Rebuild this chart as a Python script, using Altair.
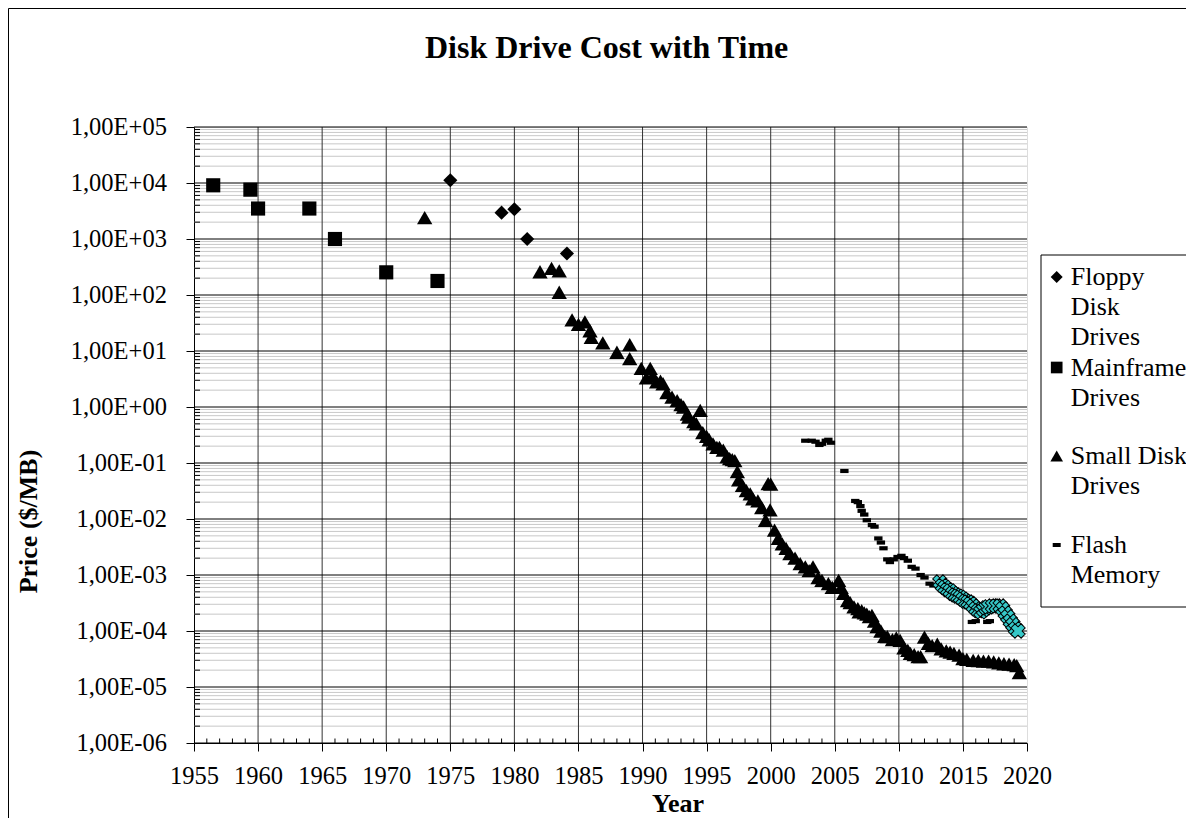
import altair as alt
import pandas as pd

# ---------------- text ----------------
chart_title = ["Disk Drive Cost with Time"]
x_title = "Year"
y_title = "Price ($/MB)"
series_names = ["Floppy Disk Drives", "Mainframe Drives", "Small Disk Drives", "Flash Memory"]
legend_lines = [["Floppy", "Disk", "Drives"], ["Mainframe", "Drives"], ["Small Disk", "Drives"], ["Flash", "Memory"]]

# ---------------- axes ----------------
x_ticks = [1955, 1960, 1965, 1970, 1975, 1980, 1985, 1990, 1995, 2000, 2005, 2010, 2015, 2020]
x_grid = [1960, 1965, 1970, 1975, 1980, 1985, 1990, 1995, 2000, 2005, 2010, 2015]
x_minor = [yr for yr in range(1956, 2020) if yr % 5 != 0]
y_ticks = [1e-06, 1e-05, 1e-04, 1e-03, 1e-02, 1e-01, 1e00, 1e01, 1e02, 1e03, 1e04, 1e05]
y_minor = [m * d for d in y_ticks[:-1] for m in range(2, 10)]

# ---------------- data ----------------
floppy_year = [1975.0, 1979.0, 1980.0, 1981.0, 1984.1]
floppy_price = [11200, 2950, 3400, 1000, 550]

mainframe_year = [1956.5, 1959.4, 1960.0, 1964.0, 1966.0, 1970.0, 1974.0]
mainframe_price = [9100, 7600, 3500, 3500, 1000, 254, 178]

small_year = [
    1973.0, 1982.0, 1982.9, 1983.5, 1983.5, 1984.5, 1985.0, 1985.5, 1985.9, 1986.0,
    1986.9, 1988.0, 1989.0, 1989.0, 1989.9, 1990.3, 1990.6, 1990.8, 1991.1, 1991.4,
    1991.6, 1991.9, 1992.3, 1992.7, 1993.0, 1993.2, 1993.5, 1993.6, 1994.0, 1994.2,
    1994.5, 1994.7, 1995.0, 1995.2, 1995.5, 1995.8, 1996.0, 1996.3, 1996.6, 1996.8,
    1997.0, 1997.2, 1997.4, 1997.5, 1997.8, 1998.1, 1998.4, 1998.6, 1999.0, 1999.3,
    1999.6, 1999.8, 2000.0, 1999.95, 2000.3, 2000.6, 2000.9, 2001.2, 2001.5, 2001.9,
    2002.3, 2002.7, 2003.0, 2003.3, 2003.7, 2004.0, 2004.5, 2004.8, 2005.3, 2005.5,
    2005.7, 2006.0, 2006.2, 2006.5, 2006.8, 2006.9, 2007.1, 2007.3, 2007.5, 2007.7,
    2007.9, 2008.1, 2008.3, 2008.6, 2008.9, 2009.1, 2009.5, 2009.8, 2010.1, 2010.4,
    2010.7, 2010.9, 2011.2, 2011.5, 2011.7, 2012.0, 2012.3, 2012.6, 2013.0, 2013.3,
    2013.7, 2014.0, 2014.3, 2014.7, 2015.0, 2015.3, 2015.8, 2016.2, 2016.6, 2017.0,
    2017.4, 2017.8, 2018.2, 2018.6, 2019.0, 2019.2, 2019.4,
]
small_price = [
    2400, 260, 300, 270, 112, 36, 30, 33, 23, 17.5,
    14, 9.5, 13, 7.3, 4.9, 3.3, 4.9, 3.6, 2.8, 2.9,
    2.6, 1.8, 1.5, 1.3, 1.1, 1.0, 0.75, 0.66, 0.55, 0.5,
    0.87, 0.35, 0.3, 0.26, 0.22, 0.19, 0.19, 0.17, 0.13, 0.12,
    0.115, 0.11, 0.07, 0.05, 0.04, 0.032, 0.028, 0.023, 0.021, 0.016,
    0.0095, 0.043, 0.042, 0.0145, 0.0063, 0.0045, 0.0036, 0.003, 0.0024, 0.002,
    0.0016, 0.0014, 0.0012, 0.0014, 0.0009, 0.0008, 0.0007, 0.0006, 0.0008, 0.0006,
    0.00047, 0.00035, 0.00032, 0.00027, 0.00025, 0.00022, 0.00023, 0.00021, 0.0002, 0.00018,
    0.00019, 0.00015, 0.00012, 0.0001, 0.00008, 0.000079, 0.00007, 0.000075, 0.000068, 0.00005,
    0.000045, 0.00004, 0.000038, 0.000035, 0.000035, 0.000078, 0.00006, 0.000055, 0.000058, 0.000048,
    0.000044, 0.000042, 0.00004, 0.000037, 0.000032, 0.000031, 0.00003, 0.0000295, 0.000029, 0.000029,
    0.000028, 0.000027, 0.000026, 0.0000255, 0.000025, 0.000024, 0.000018,
]

flash_year = [
    2002.7, 2003.2, 2003.5, 2003.8, 2004.0, 2004.3, 2004.5, 2004.7, 2005.75, 2006.6,
    2006.8, 2007.0, 2007.1, 2007.3, 2007.5, 2007.9, 2008.1, 2008.4, 2008.6, 2008.8,
    2009.1, 2009.3, 2009.6, 2009.9, 2010.2, 2010.4, 2010.7, 2011.0, 2011.3, 2011.7,
    2012.0, 2012.4, 2012.7, 2015.7, 2016.0, 2016.9, 2017.1,
]
flash_price = [
    0.25, 0.25, 0.24, 0.21, 0.22, 0.25, 0.26, 0.23, 0.072, 0.021,
    0.02, 0.017, 0.014, 0.012, 0.0095, 0.0078, 0.0073, 0.0045, 0.0038, 0.003,
    0.0019, 0.0017, 0.0019, 0.0021, 0.0022, 0.002, 0.0018, 0.0014, 0.0013, 0.001,
    0.0009, 0.0007, 0.00065, 0.000145, 0.00015, 0.000145, 0.00015,
]

cyan_year = [
    2013.2, 2013.4, 2013.6, 2013.8, 2014.0, 2014.2, 2014.4, 2014.6, 2014.8, 2015.0,
    2015.2, 2015.4, 2015.6, 2015.8, 2016.0, 2016.2, 2016.4, 2016.6, 2016.8, 2017.0,
    2017.3, 2017.6, 2017.9, 2018.1, 2018.3, 2018.5, 2018.7, 2018.9, 2019.1, 2019.3,
]
cyan_price = [
    0.00075, 0.00065, 0.0006, 0.00055, 0.00052, 0.00047, 0.00044, 0.00042, 0.0004, 0.00037,
    0.00034, 0.00033, 0.00031, 0.00028, 0.00025, 0.00023, 0.00022, 0.00024, 0.00026, 0.00027,
    0.00028, 0.00028, 0.00028, 0.00025, 0.00021, 0.00018, 0.00015, 0.00013, 0.00011, 0.0001,
]

# ---------------- layout / style ----------------
W, H = 833, 616
FONT = "Liberation Serif"
DASH = "M-1,-0.5H1V0.5H-1Z"

xscale = alt.Scale(domain=[1955, 2020], nice=False, zero=False)
yscale = alt.Scale(type="log", domain=[1e-6, 1e5], nice=False)

exp_expr = "round(log(datum.value)/LN10)"
ylabel = ("'1,00E' + (" + exp_expr + " < 0 ? '-' : '+') + (abs(" + exp_expr +
          ") < 10 ? '0' : '') + abs(" + exp_expr + ")")

xaxis = alt.Axis(values=x_ticks, format="d", grid=False, tickSize=8, tickColor="black",
                 domainColor="black", labelFont=FONT, labelFontSize=24.5, labelColor="black",
                 labelBaseline="alphabetic", labelPadding=32.3, labelFlush=False, labelOverlap=False,
                 title=x_title, titleFont=FONT, titleFontSize=26, titleFontWeight="bold",
                 titleColor="black", titleX=483.6, titleY=68.5, titleAlign="center",
                 titleBaseline="alphabetic")
yaxis = alt.Axis(values=y_ticks, grid=False, tickSize=8, tickColor="black", domainColor="black",
                 labelExpr=ylabel, labelFont=FONT, labelFontSize=24.5, labelColor="black",
                 labelBaseline="middle", labelPadding=19.6, labelFlush=False, labelOverlap=False,
                 title=y_title, titleFont=FONT, titleFontSize=26, titleFontWeight="bold",
                 titleColor="black", titleX=-157.3, titleY=394, titleAngle=270,
                 titleAlign="center", titleBaseline="alphabetic")


def X():
    return alt.X("year:Q", scale=xscale, axis=xaxis)


def Y():
    return alt.Y("price:Q", scale=yscale, axis=yaxis)


one = pd.DataFrame({"k": [0]})

layers = []

# outer chart frame
layers.append(alt.Chart(one).mark_rect(fillOpacity=0, stroke="black", strokeWidth=1).encode(
    x=alt.value(-185.5), x2=alt.value(W + 500), y=alt.value(-118.5), y2=alt.value(H + 500)))

# minor horizontal gridlines
layers.append(alt.Chart(pd.DataFrame({"price": y_minor})).mark_rule(color="#c8c8c8", strokeWidth=1).encode(
    y=Y(), x=alt.value(0), x2=alt.value(W)))
# major vertical gridlines
layers.append(alt.Chart(pd.DataFrame({"year": x_grid})).mark_rule(color="#333333", strokeWidth=1).encode(
    x=X(), y=alt.value(0), y2=alt.value(H)))
# major horizontal gridlines
layers.append(alt.Chart(pd.DataFrame({"price": y_ticks})).mark_rule(color="black", strokeWidth=1).encode(
    y=Y(), x=alt.value(0), x2=alt.value(W)))
# minor ticks (inside)
layers.append(alt.Chart(pd.DataFrame({"price": y_minor})).mark_rule(color="black", strokeWidth=1).encode(
    y=Y(), x=alt.value(0), x2=alt.value(6)))
layers.append(alt.Chart(pd.DataFrame({"year": x_minor})).mark_rule(color="black", strokeWidth=1).encode(
    x=X(), y=alt.value(H), y2=alt.value(H - 4.5)))

# data series
floppy_df = pd.DataFrame({"year": floppy_year, "price": floppy_price, "series": series_names[0]})
main_df = pd.DataFrame({"year": mainframe_year, "price": mainframe_price, "series": series_names[1]})
small_df = pd.DataFrame({"year": small_year, "price": small_price, "series": series_names[2]})
flash_df = pd.DataFrame({"year": flash_year, "price": flash_price, "series": series_names[3]})
cyan_df = pd.DataFrame({"year": cyan_year, "price": cyan_price})

layers.append(alt.Chart(floppy_df).mark_point(shape="diamond", filled=True, color="black", size=200, opacity=1).encode(x=X(), y=Y()))
layers.append(alt.Chart(main_df).mark_point(shape="square", filled=True, color="black", size=200, opacity=1).encode(x=X(), y=Y()))
layers.append(alt.Chart(small_df).mark_point(shape="triangle-up", filled=True, color="black", size=235, opacity=1).encode(x=X(), y=Y()))
layers.append(alt.Chart(flash_df).mark_point(shape=DASH, filled=True, color="black", size=70, opacity=1).encode(x=X(), y=Y()))
layers.append(alt.Chart(cyan_df).mark_point(shape="cross", angle=45, filled=True, fill="#36c8c8", stroke="black",
                                            strokeWidth=1, size=210, opacity=1).encode(x=X(), y=Y()))

# legend box
layers.append(alt.Chart(one).mark_rect(fill="white", stroke="black", strokeWidth=1).encode(
    x=alt.value(847), x2=alt.value(1010), y=alt.value(128), y2=alt.value(480)))

legend_shapes = [("diamond", 144), ("square", 136), ("triangle-up", 160), (DASH, 64)]
legend_baselines = [158, 248.5, 337, 426]
for name, lines, (shp, sz), base in zip(series_names, legend_lines, legend_shapes, legend_baselines):
    ldf = pd.DataFrame({"series": [name], "label": ["\n".join(lines)]})
    layers.append(alt.Chart(ldf).mark_point(shape=shp, filled=True, color="black", size=sz, opacity=1).encode(
        x=alt.value(862.7), y=alt.value(base - 8)))
    layers.append(alt.Chart(ldf).mark_text(align="left", baseline="alphabetic", lineBreak="\n", lineHeight=30,
                                           font=FONT, fontSize=26, color="black").encode(
        x=alt.value(876.7), y=alt.value(base), text="label:N"))

# title
layers.append(alt.Chart(pd.DataFrame({"title": chart_title})).mark_text(
    align="center", baseline="alphabetic", font=FONT, fontSize=32, fontWeight="bold", color="black").encode(
    x=alt.value(412.6), y=alt.value(-68.7), text="title:N"))

chart = alt.layer(*layers).properties(
    width=W, height=H,
    autosize=alt.AutoSizeParams(type="none"),
    padding={"left": 186, "top": 119, "right": 159, "bottom": 75},
).configure_view(stroke="black", strokeWidth=1).configure(font=FONT, background="white")

chart.save("out.html", embed_options={"renderer": "svg", "actions": False})
